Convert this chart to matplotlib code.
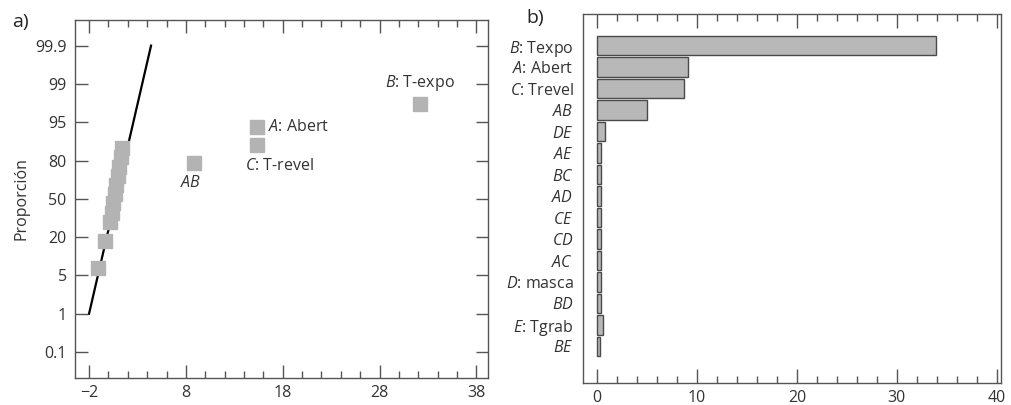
import matplotlib
matplotlib.use("Agg")
import matplotlib.pyplot as plt
from matplotlib.ticker import MultipleLocator

plt.rcParams['font.family'] = ['Open Sans', 'DejaVu Sans']
plt.rcParams['mathtext.fontset'] = 'custom'
plt.rcParams['mathtext.rm'] = 'Open Sans'
plt.rcParams['mathtext.it'] = 'Open Sans:italic'
plt.rcParams['font.size'] = 11.5

# a) normal probability plot of effects
prob_labels = ['0.1', '1', '5', '20', '50', '80', '95', '99', '99.9']
# effect value and position on the probability paper (tick index units)
effects_x = [32.2, 15.3, 15.3, 8.8, -1.04, -0.34, 0.18, 0.33, 0.49, 0.64, 0.80, 0.95, 1.11, 1.26, 1.42]
effects_y = [6.47, 5.88, 5.40, 4.94, 2.20, 2.90, 3.39, 3.64, 3.88, 4.12, 4.36, 4.60, 4.84, 5.08, 5.33]
line_x = [-2, 4.4]
line_y = [1, 8]
# labelled points: (text, index into effects, offset in points, align)
point_labels = [
    (r'$\mathit{B}$: T-expo', 0, (0, 15), 'center'),
    (r'$\mathit{A}$: Abert', 1, (8, 0), 'left'),
    (r'$\mathit{C}$: T-revel', 2, (-8, -15), 'left'),
    (r'$\mathit{AB}$', 3, (-2, -14.5), 'center'),
]

# b) Pareto chart
pareto_labels = [r'$\mathit{B}$: Texpo', r'$\mathit{A}$: Abert', r'$\mathit{C}$: Trevel',
                 r'$\mathit{AB}$', r'$\mathit{DE}$', r'$\mathit{AE}$', r'$\mathit{BC}$',
                 r'$\mathit{AD}$', r'$\mathit{CE}$', r'$\mathit{CD}$', r'$\mathit{AC}$',
                 r'$\mathit{D}$: masca', r'$\mathit{BD}$', r'$\mathit{E}$: Tgrab', r'$\mathit{BE}$']
pareto_values = [33.9, 9.05, 8.7, 4.97, 0.8, 0.37, 0.4, 0.4, 0.4, 0.4, 0.4, 0.4, 0.4, 0.57, 0.3]

spine_col = '#555555'
text_col = '#333333'

fig = plt.figure(figsize=(10.11, 4.05), dpi=100)
ax1 = fig.add_axes([0.0742, 0.0667, 0.4085, 0.8839])
ax2 = fig.add_axes([0.5767, 0.0543, 0.4133, 0.9111])

# --- panel a ---
ax1.plot(line_x, line_y, color='black', lw=1.6, zorder=2)
ax1.plot(effects_x, effects_y, ls='none', marker='s', ms=9.5, color='#b3b3b3', zorder=3)
for txt, i, off, ha in point_labels:
    ax1.annotate(txt, (effects_x[i], effects_y[i]), xytext=off, textcoords='offset points',
                 ha=ha, va='center', color=text_col)

ax1.set_xlim(-3.45, 39.2)
ax1.set_ylim(-0.68, 8.67)
ax1.set_yticks(range(len(prob_labels)))
ax1.set_yticklabels(prob_labels)
ax1.xaxis.set_major_locator(MultipleLocator(10))
ax1.set_xticks([-2, 8, 18, 28, 38])
ax1.xaxis.set_minor_locator(MultipleLocator(2))
ax1.tick_params(axis='x', which='both', direction='in', top=True, colors=spine_col,
                labelcolor=text_col, width=1)
ax1.tick_params(axis='x', which='major', length=9.5, pad=5)
ax1.tick_params(axis='x', which='minor', length=5)
ax1.tick_params(axis='y', which='major', direction='in', right=True, length=9,
                colors=spine_col, labelcolor=text_col, width=1, pad=6)
ax1.set_ylabel('Proporción', color=text_col, labelpad=4)

# --- panel b ---
pos = range(len(pareto_values))
ax2.barh(pos, pareto_values, height=0.9, color='#b8b8b8', edgecolor='#4a4a4a', lw=1)
ax2.set_yticks(list(pos))
ax2.set_yticklabels(pareto_labels)
ax2.set_ylim(15.7, -1.47)
ax2.set_xlim(-1.4, 40.4)
ax2.xaxis.set_major_locator(MultipleLocator(10))
ax2.xaxis.set_minor_locator(MultipleLocator(2))
ax2.tick_params(axis='x', which='both', direction='in', top=True, colors=spine_col,
                labelcolor=text_col, width=1)
ax2.tick_params(axis='x', which='major', length=10, pad=5)
ax2.tick_params(axis='x', which='minor', length=5)
ax2.tick_params(axis='y', length=0, pad=7, labelcolor=text_col)

for ax in (ax1, ax2):
    for s in ax.spines.values():
        s.set_color(spine_col)
        s.set_linewidth(1)

fig.text(0.012, 0.945, 'a)', fontsize=14, color='#222222', va='center')
fig.text(0.521, 0.955, 'b)', fontsize=14, color='#222222', va='center')

fig.savefig('out.png', dpi=100)
